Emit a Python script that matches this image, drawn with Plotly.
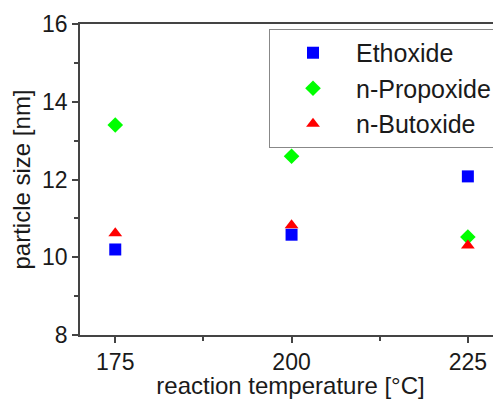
import plotly.graph_objects as go

temperatures = [175, 200, 225]
ethoxide = [10.2, 10.58, 12.08]
propoxide = [13.4, 12.6, 10.52]
butoxide = [10.62, 10.82, 10.3]

series_names = ["Ethoxide", "n-Propoxide", "n-Butoxide"]
x_ticks = [175, 200, 225]
y_ticks = [8, 10, 12, 14, 16]

font_family = "Liberation Sans, Arial, sans-serif"
axis_color = "#444444"

fig = go.Figure()
fig.add_trace(go.Scatter(x=temperatures, y=ethoxide, mode="markers", name=series_names[0],
                         marker=dict(symbol="square", size=12, color="#0000FF")))
fig.add_trace(go.Scatter(x=temperatures, y=propoxide, mode="markers", name=series_names[1],
                         marker=dict(symbol="diamond", size=12, color="#00FF00")))
fig.add_trace(go.Scatter(x=temperatures, y=butoxide, mode="markers", name=series_names[2],
                         marker=dict(symbol="triangle-up", size=12, color="#FF0000")))

# page body has an 8px default margin, so the figure is sized/offset to compensate
fig.update_layout(
    width=493, height=391,
    margin=dict(l=72, r=0, t=16, b=64, autoexpand=False),
    paper_bgcolor="white", plot_bgcolor="white",
    font=dict(family=font_family, size=23, color="#1a1a1a"),
    showlegend=True,
    legend=dict(
        x=0.9905, xanchor="right", y=0.984, yanchor="top",
        bordercolor="#888888", borderwidth=1, bgcolor="white",
        font=dict(size=25), itemwidth=76,
    ),
    xaxis=dict(
        range=[170, 229.7], tickvals=x_ticks, ticktext=[str(v) for v in x_ticks],
        automargin=True,
        showgrid=False, zeroline=False, showline=True, linecolor=axis_color, linewidth=1.5,
        mirror=True, ticks="outside", ticklen=6, tickwidth=1.5, tickcolor=axis_color,
        minor=dict(tickvals=[187.5, 212.5], ticks="outside", ticklen=4, tickwidth=1.5, tickcolor=axis_color),
        title=dict(text="reaction temperature [°C]", font=dict(size=24), standoff=4),
        tickfont=dict(size=23),
    ),
    yaxis=dict(
        range=[8, 16], tickvals=y_ticks, ticktext=[str(v) for v in y_ticks],
        automargin=True,
        showgrid=False, zeroline=False, showline=True, linecolor=axis_color, linewidth=1.5,
        mirror=False, ticks="outside", ticklen=6, tickwidth=1.5, tickcolor=axis_color,
        minor=dict(tickvals=[9, 11, 13, 15], ticks="outside", ticklen=4, tickwidth=1.5, tickcolor=axis_color),
        title=dict(text="particle size [nm]", font=dict(size=24), standoff=6),
        tickfont=dict(size=23),
    ),
)

fig.write_html("out.html")
